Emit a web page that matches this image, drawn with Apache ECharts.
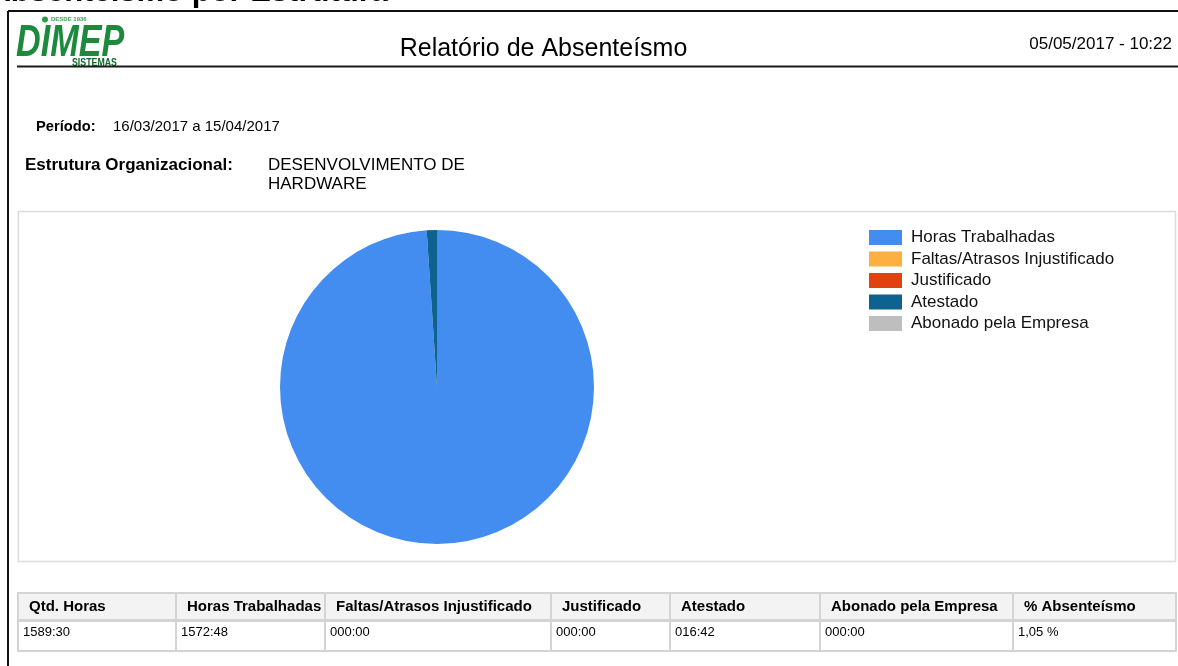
<!DOCTYPE html>
<html>
<head>
<meta charset="utf-8">
<title>Relatório de Absenteísmo</title>
<script src="https://cdn.jsdelivr.net/npm/echarts@6/dist/echarts.min.js"></script>
<style>
  html, body { margin: 0; padding: 0; background: #fff; }
  #chart { width: 1178px; height: 666px; }
</style>
</head>
<body>
<div id="chart"></div>
<script>
// Report header
const reportHeading = 'Absenteísmo por Estrutura';
const reportTitle = 'Relatório de Absenteísmo';
const reportStamp = '05/05/2017 - 10:22';
const periodLabel = 'Período:';
const periodValue = '16/03/2017 a 15/04/2017';
const structureLabel = 'Estrutura Organizacional:';
const structureLines = ['DESENVOLVIMENTO DE', 'HARDWARE'];

// Categories shown in the pie and legend
const categories = ['Horas Trabalhadas', 'Faltas/Atrasos Injustificado', 'Justificado', 'Atestado', 'Abonado pela Empresa'];
const categoryColors = ['#438cf0', '#fcb042', '#e1420f', '#0d628f', '#bebebe'];

// Summary table (hours as HHH:MM)
const tableHeaders = ['Qtd. Horas', 'Horas Trabalhadas', 'Faltas/Atrasos Injustificado', 'Justificado', 'Atestado', 'Abonado pela Empresa', '% Absenteísmo'];
const totalHours = '1589:30';
const categoryHours = ['1572:48', '000:00', '000:00', '016:42', '000:00'];
const absenteeism = '1,05 %';

function toHours(s) {
  const [h, m] = s.split(':').map(Number);
  return h + m / 60;
}

const font = 'Liberation Sans, Arial, sans-serif';
const chart = echarts.init(document.getElementById('chart'), null, { renderer: 'canvas' });

// table geometry
const colEdges = [18, 176, 325, 551, 670, 820, 1013, 1176];
const headTop = 593, headH = 27, rowTop = 621, rowH = 30;
const rowValues = [totalHours].concat(categoryHours, [absenteeism]);

const graphics = [];

// heading above the frame, running off the top edge
graphics.push({ type: 'text', x: 388, y: -8, style: { text: reportHeading, font: 'bold 31px ' + font, fill: '#000', align: 'right', verticalAlign: 'middle' } });

// page frame
graphics.push({ type: 'line', shape: { x1: 8, y1: 11, x2: 1178, y2: 11 }, style: { stroke: '#111', lineWidth: 2 } });
graphics.push({ type: 'line', shape: { x1: 8, y1: 11, x2: 8, y2: 666 }, style: { stroke: '#111', lineWidth: 2 } });

// logo
graphics.push({ type: 'circle', shape: { cx: 45, cy: 19.5, r: 3 }, style: { fill: '#2f9a4a' } });
graphics.push({ type: 'text', x: 51, y: 19.5, style: { text: 'DESDE 1936', font: 'bold 6px ' + font, fill: '#3aa456', verticalAlign: 'middle' } });
graphics.push({ type: 'text', x: 16, y: 44, scaleX: 0.76, style: { text: 'DIMEP', font: 'italic bold 45px ' + font, fill: '#1b8a3c', verticalAlign: 'middle' } });
graphics.push({ type: 'text', x: 72, y: 62.5, scaleX: 0.8, style: { text: 'SISTEMAS', font: 'bold 11px ' + font, fill: '#0f6a2a', verticalAlign: 'middle' } });

// header rule, title, date
graphics.push({ type: 'line', shape: { x1: 17, y1: 66.5, x2: 1178, y2: 66.5 }, style: { stroke: '#1a1a1a', lineWidth: 2 } });
graphics.push({ type: 'text', x: 543.5, y: 49, style: { text: reportTitle, font: '25px ' + font, fill: '#000', align: 'center', verticalAlign: 'middle' } });
graphics.push({ type: 'text', x: 1172, y: 44.5, style: { text: reportStamp, font: '17px ' + font, fill: '#000', align: 'right', verticalAlign: 'middle' } });

// period and structure
graphics.push({ type: 'text', x: 36, y: 127, style: { text: periodLabel, font: 'bold 14.7px ' + font, fill: '#000', verticalAlign: 'middle' } });
graphics.push({ type: 'text', x: 113, y: 127, style: { text: periodValue, font: '15px ' + font, fill: '#000', verticalAlign: 'middle' } });
graphics.push({ type: 'text', x: 25, y: 165, style: { text: structureLabel, font: 'bold 17px ' + font, fill: '#000', verticalAlign: 'middle' } });
structureLines.forEach((t, i) => {
  graphics.push({ type: 'text', x: 268, y: 165 + i * 19.5, style: { text: t, font: '17px ' + font, fill: '#000', verticalAlign: 'middle' } });
});

// chart panel
graphics.push({ type: 'rect', z: -1, shape: { x: 18.5, y: 211.5, width: 1157, height: 350 }, style: { fill: '#fff', stroke: '#dcdcdc', lineWidth: 1.5 } });

// summary table
tableHeaders.forEach((h, i) => {
  const x0 = colEdges[i], w = colEdges[i + 1] - colEdges[i];
  graphics.push({ type: 'rect', shape: { x: x0, y: headTop, width: w, height: headH }, style: { fill: '#f3f3f3', stroke: '#d4d4d4', lineWidth: 2 } });
  graphics.push({ type: 'text', x: x0 + 11, y: headTop + headH / 2, style: { text: h, font: 'bold 15px ' + font, fill: '#000', verticalAlign: 'middle' } });
  graphics.push({ type: 'rect', shape: { x: x0, y: rowTop, width: w, height: rowH }, style: { fill: '#fff', stroke: '#d4d4d4', lineWidth: 2 } });
  graphics.push({ type: 'text', x: x0 + 5, y: rowTop + 11, style: { text: rowValues[i], font: '13px ' + font, fill: '#000', verticalAlign: 'middle' } });
});

chart.setOption({
  animation: false,
  color: categoryColors,
  legend: {
    orient: 'vertical',
    left: 869,
    top: 229,
    padding: 0,
    itemWidth: 33,
    itemHeight: 15,
    itemGap: 4.5,
    icon: 'rect',
    selectedMode: false,
    textStyle: { fontFamily: font, fontSize: 17, lineHeight: 15, color: '#111', padding: [0, 0, 0, 4] },
    data: categories
  },
  series: [{
    type: 'pie',
    center: [437, 387],
    radius: 157,
    startAngle: 90,
    clockwise: true,
    label: { show: false },
    labelLine: { show: false },
    emphasis: { disabled: true },
    itemStyle: { borderWidth: 0 },
    data: categories.map((name, i) => ({ name, value: toHours(categoryHours[i]) }))
  }],
  graphic: graphics
});
</script>
</body>
</html>
